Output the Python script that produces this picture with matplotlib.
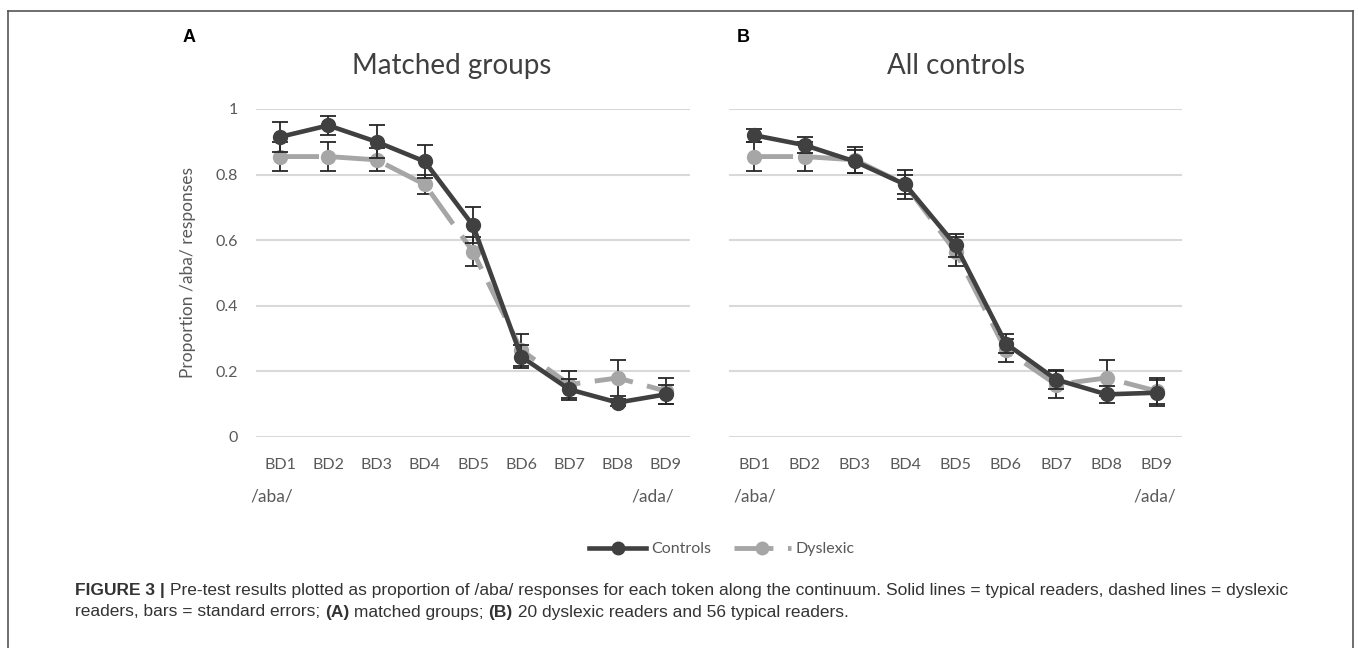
import matplotlib
matplotlib.use("Agg")
import matplotlib.pyplot as plt
from matplotlib.lines import Line2D

# tokens along the continuum
tokens = ["BD1", "BD2", "BD3", "BD4", "BD5", "BD6", "BD7", "BD8", "BD9"]

# panel A: matched groups
a_controls = [0.915, 0.950, 0.900, 0.840, 0.645, 0.245, 0.145, 0.105, 0.130]
a_controls_se = [0.045, 0.028, 0.050, 0.050, 0.055, 0.035, 0.032, 0.010, 0.030]
a_dyslexic = [0.855, 0.855, 0.845, 0.770, 0.565, 0.265, 0.160, 0.180, 0.140]
a_dyslexic_se = [0.045, 0.045, 0.035, 0.030, 0.045, 0.050, 0.040, 0.055, 0.040]

# panel B: all controls
b_controls = [0.920, 0.890, 0.840, 0.770, 0.585, 0.285, 0.175, 0.130, 0.135]
b_controls_se = [0.020, 0.025, 0.035, 0.030, 0.035, 0.030, 0.030, 0.025, 0.040]
b_dyslexic = [0.855, 0.855, 0.845, 0.770, 0.565, 0.265, 0.160, 0.180, 0.140]
b_dyslexic_se = [0.045, 0.045, 0.040, 0.045, 0.045, 0.035, 0.040, 0.055, 0.040]

yticks = [0, 0.2, 0.4, 0.6, 0.8, 1]
ytick_labels = ["0", "0.2", "0.4", "0.6", "0.8", "1"]

C_DARK = "#404040"
C_LIGHT = "#a6a6a6"
TXT = "#595959"
W, H = 1358, 648

plt.rcParams["font.family"] = ["Lato", "DejaVu Sans"]

fig = plt.figure(figsize=(W / 100, H / 100), dpi=100)


def px_axes(x0, x1, y0, y1):
    return fig.add_axes([x0 / W, 1 - y1 / H, (x1 - x0) / W, (y1 - y0) / H])


def draw_panel(ax, controls, controls_se, dyslexic, dyslexic_se, show_ylabel):
    x = list(range(1, len(tokens) + 1))
    ax.errorbar(x, dyslexic, yerr=dyslexic_se, color=C_LIGHT, ecolor="#262626",
                elinewidth=1.3, capsize=6, capthick=1.3, lw=3.5, marker="o",
                ms=10, dashes=(8, 3), zorder=3, label="Dyslexic")
    ax.errorbar(x, controls, yerr=controls_se, color=C_DARK, ecolor="#262626",
                elinewidth=1.3, capsize=6, capthick=1.3, lw=3.3, marker="o",
                ms=10, zorder=4, label="Controls")
    ax.set_xlim(0.5, len(tokens) + 0.5)
    ax.set_ylim(0, 1)
    ax.set_xticks(x)
    ax.set_xticklabels(tokens)
    ax.set_yticks(yticks)
    ax.set_yticklabels(ytick_labels if show_ylabel else [])
    ax.tick_params(length=0, labelsize=11.5, labelcolor=TXT)
    ax.tick_params(axis="x", pad=15)
    ax.tick_params(axis="y", pad=13)
    ax.grid(axis="y", color="#d9d9d9", lw=1.5)
    ax.set_axisbelow(True)
    for s in ax.spines.values():
        s.set_visible(False)
    for line in ax.get_lines():
        line.set_clip_on(False)
    if show_ylabel:
        ax.set_ylabel("Proportion /aba/ responses", fontsize=12.5, color=TXT, labelpad=14)


ax_a = px_axes(256, 690, 109, 437)
ax_b = px_axes(729, 1182, 109, 437)
draw_panel(ax_a, a_controls, a_controls_se, a_dyslexic, a_dyslexic_se, True)
draw_panel(ax_b, b_controls, b_controls_se, b_dyslexic, b_dyslexic_se, False)

# panel titles
fig.text(452 / W, 1 - 66 / H, "Matched groups", ha="center", va="center", fontsize=20, color=C_DARK)
fig.text(956 / W, 1 - 66 / H, "All controls", ha="center", va="center", fontsize=20, color=C_DARK)

# continuum end labels
for xa, xb in [(272, 653), (755, 1155)]:
    fig.text(xa / W, 1 - 497 / H, "/aba/", ha="center", va="center", fontsize=12.5, color=TXT)
    fig.text(xb / W, 1 - 497 / H, "/ada/", ha="center", va="center", fontsize=12.5, color=TXT)

# panel letters
fig.text(189 / W, 1 - 38 / H, "A", ha="center", va="center", fontsize=13,
         fontweight="bold", family="Liberation Sans", color="black")
fig.text(743 / W, 1 - 38 / H, "B", ha="center", va="center", fontsize=13,
         fontweight="bold", family="Liberation Sans", color="black")

# legend
handles = [
    Line2D([], [], color=C_DARK, lw=3.3, marker="o", ms=9),
    Line2D([], [], color=C_LIGHT, lw=3.5, marker="o", ms=9, dashes=(8, 3)),
]
fig.legend(handles, ["Controls", "Dyslexic"], loc="center", bbox_to_anchor=(722 / W, 1 - 549 / H),
           ncol=2, frameon=False, fontsize=11.5, labelcolor=TXT, handlelength=3.6,
           columnspacing=1.4, handletextpad=0.3)

# outer frame
frame_kw = dict(color="#555555", lw=1.2, transform=fig.transFigure)
fig.add_artist(Line2D([8 / W, 1353 / W], [1 - 11 / H, 1 - 11 / H], **frame_kw))
fig.add_artist(Line2D([8 / W, 8 / W], [1 - 11 / H, 0], **frame_kw))
fig.add_artist(Line2D([1353 / W, 1353 / W], [1 - 11 / H, 0], **frame_kw))

# caption with mixed bold pieces
renderer = fig.canvas.get_renderer()


def caption_line(pieces, x_px, y_px):
    x = x_px / W
    for txt, bold in pieces:
        t = fig.text(x, 1 - y_px / H, txt, fontsize=12.5, family="Liberation Sans",
                     fontweight="bold" if bold else "normal", color="#333333",
                     ha="left", va="center")
        bb = t.get_window_extent(renderer=renderer)
        x = bb.x1 / W


caption_line([("FIGURE 3 | ", True),
              ("Pre-test results plotted as proportion of /aba/ responses for each token along the "
               "continuum. Solid lines = typical readers, dashed lines = dyslexic", False)], 75, 590)
caption_line([("readers, bars = standard errors; ", False), ("(A)", True),
              (" matched groups; ", False), ("(B)", True),
              (" 20 dyslexic readers and 56 typical readers.", False)], 75, 612)

fig.savefig("out.png", dpi=100)
